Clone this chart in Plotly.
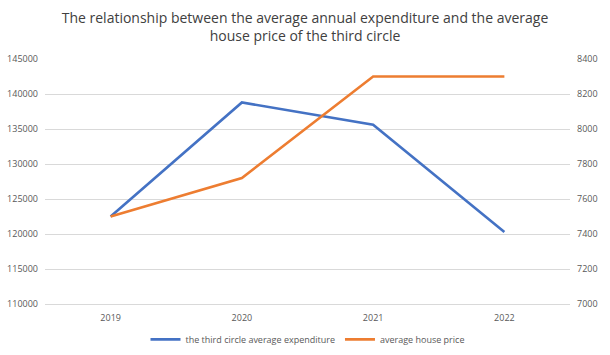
import plotly.graph_objects as go

years = ["2019", "2020", "2021", "2022"]
expenditure = [122500, 138800, 135600, 120300]
house_price = [7500, 7720, 8300, 8300]

left_ticks = [110000, 115000, 120000, 125000, 130000, 135000, 140000, 145000]
right_ticks = [7000, 7200, 7400, 7600, 7800, 8000, 8200, 8400]

fig = go.Figure()
fig.add_trace(go.Scatter(x=years, y=expenditure, mode="lines",
                         name="the third circle average expenditure",
                         line=dict(color="#4472C4", width=2.6)))
fig.add_trace(go.Scatter(x=years, y=house_price, mode="lines",
                         name="average house price", yaxis="y2",
                         line=dict(color="#ED7D31", width=2.6)))

tick_font = dict(family="Open Sans, Liberation Sans, sans-serif", size=9, color="#595959")

fig.update_layout(
    width=610, height=355,
    margin=dict(l=45, r=40, t=59, b=51, autoexpand=False),
    paper_bgcolor="white", plot_bgcolor="white",
    title=dict(text="The relationship between the average annual expenditure and the average<br>house price of the third circle",
               x=0.5, xanchor="center", yref="container", y=0.936, yanchor="middle",
               font=dict(family="Open Sans, Liberation Sans, sans-serif", size=14, color="#404040")),
    xaxis=dict(type="category", range=[-0.5, 3.5], showgrid=False, zeroline=False,
               showline=True, linecolor="#D9D9D9", linewidth=1, automargin=False,
               ticks="", tickfont=tick_font, ticklabelstandoff=5),
    yaxis=dict(range=[110000, 145000], tickvals=left_ticks,
               ticktext=[str(v) for v in left_ticks], showgrid=True,
               gridcolor="#D9D9D9", gridwidth=1, zeroline=False, showline=False,
               automargin=False, tickfont=tick_font, ticklabelstandoff=6),
    yaxis2=dict(range=[7000, 8400], tickvals=right_ticks,
                ticktext=[str(v) for v in right_ticks], overlaying="y", side="right",
                showgrid=False, zeroline=False, showline=False, tickfont=tick_font,
                automargin=False, ticklabelstandoff=6),
    legend=dict(orientation="h", x=0.5, xanchor="center", y=-0.085, yanchor="top",
                font=dict(family="Open Sans, Liberation Sans, sans-serif", size=9, color="#595959"),
                itemwidth=30),
    showlegend=True,
)

fig.write_html("out.html", config={"displayModeBar": False},
               post_script="document.body.style.margin='0';document.body.style.overflow='hidden';")
